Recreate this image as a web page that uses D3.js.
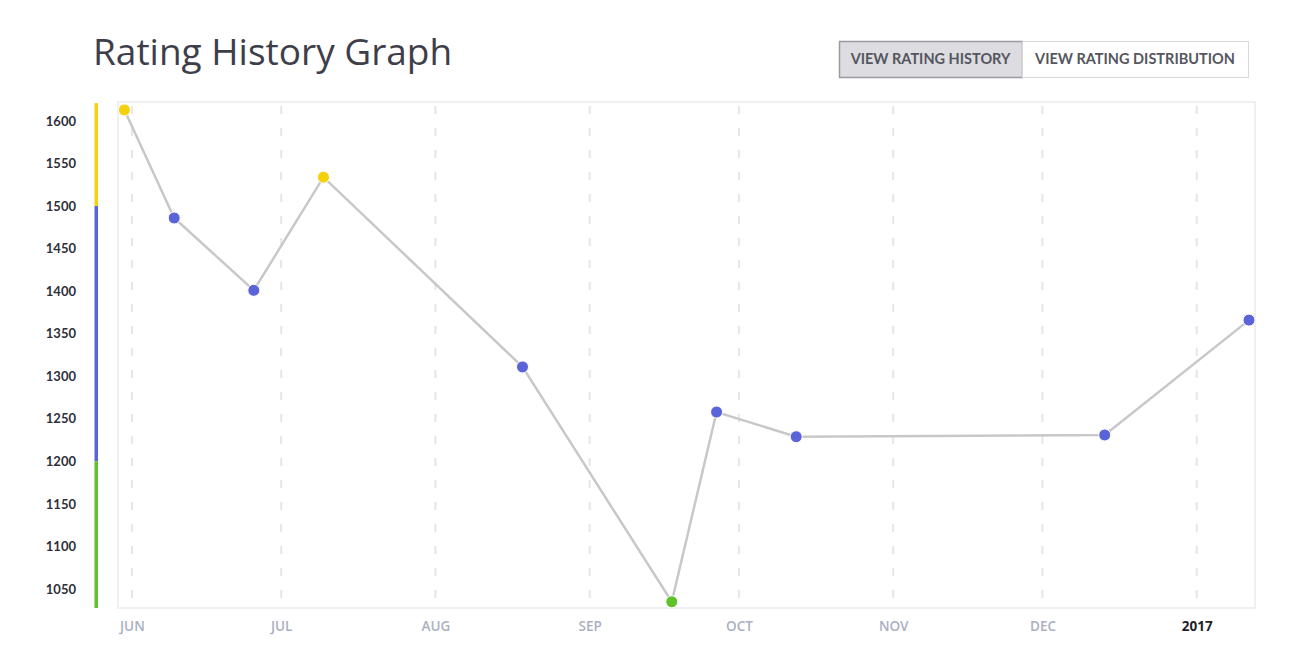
<!DOCTYPE html>
<html><head><meta charset="utf-8">
<script src="https://cdn.jsdelivr.net/npm/d3@7"></script>
<style>
html,body{margin:0;padding:0;background:#fff;}
svg{display:block;}
</style></head>
<body><svg id="c" width="1300" height="658"></svg>
<script>
const dates = ["2016-05-30 12","2016-06-09 12","2016-06-25 12","2016-07-09 12","2016-08-18 12","2016-09-17 12","2016-09-26 12","2016-10-12 12","2016-12-13 12","2017-01-11 12"];
const ratings = [1613,1486,1401,1534,1311,1035,1258,1229,1231,1366];
const yTicks = [1050,1100,1150,1200,1250,1300,1350,1400,1450,1500,1550,1600];
const monthTicks = ["2016-06-01 00","2016-07-01 00","2016-08-01 00","2016-09-01 00","2016-10-01 00","2016-11-01 00","2016-12-01 00","2017-01-01 00"];
const monthLabels = ["JUN","JUL","AUG","SEP","OCT","NOV","DEC","2017"];
const bands = [{lo:1500,hi:1621,color:"#f5d10c"},{lo:1200,hi:1500,color:"#5b63d9"},{lo:1027.7,hi:1200,color:"#5fc22b"}];
const buttons = ["VIEW RATING HISTORY","VIEW RATING DISTRIBUTION"];

const parse = d3.timeParse("%Y-%m-%d %H");
const data = dates.map((d,i)=>({date:parse(d), r:ratings[i]}));
const colorFor = r => r>=1500 ? "#f5d10c" : (r>=1200 ? "#5b63d9" : "#5fc22b");

const svg = d3.select("#c");
const L=118, R=1255, T=102, B=608;

const x = d3.scaleTime()
  .domain([new Date(2016,4,29,5), new Date(2017,0,12,17)])
  .range([L,R]);
const y = d3.scaleLinear().domain([1027.7,1622.3]).range([B,T]);

// title
svg.append("text").attr("x",93).attr("y",65)
  .attr("font-family","Open Sans").attr("font-size",37).attr("fill","#3d3e4a")
  .text("Rating History Graph");

// buttons
const bw=[183,226], bx0=839, by=41, bh=36;
let bx=bx0;
buttons.forEach((t,i)=>{
  const g=svg.append("g");
  g.append("rect").attr("x",bx+0.5).attr("y",by+0.5).attr("width",bw[i]).attr("height",bh)
    .attr("fill", i===0?"#dcdce1":"#fff").attr("stroke", i===0?"#9a9aa0":"#d8d8dc").attr("stroke-width",i===0?1.5:1);
  g.append("text").attr("x",bx+bw[i]/2).attr("y",by+bh/2+5).attr("text-anchor","middle")
    .attr("font-family","Lato").attr("font-weight","bold").attr("font-size",14.5).attr("fill","#55565e")
    .text(t);
  bx+=bw[i];
});

// frame
svg.append("rect").attr("x",L).attr("y",T).attr("width",R-L).attr("height",B-T)
  .attr("fill","none").attr("stroke","#f0f0f2").attr("stroke-width",2);

// grid
const mt = monthTicks.map(parse);
svg.append("g").selectAll("line").data(mt).join("line")
  .attr("x1",d=>x(d)).attr("x2",d=>x(d)).attr("y1",T+4).attr("y2",B)
  .attr("stroke","#e6e6e9").attr("stroke-width",2).attr("stroke-dasharray","8,14");

// color bar
svg.append("g").selectAll("rect").data(bands).join("rect")
  .attr("x",94.5).attr("width",3.5)
  .attr("y",d=>y(d.hi)).attr("height",d=>y(d.lo)-y(d.hi))
  .attr("fill",d=>d.color);

// y axis
const ya = d3.axisLeft(y).tickValues(yTicks).tickSize(0).tickPadding(0).tickFormat(d3.format("d"));
const yg = svg.append("g").attr("transform","translate(76,0)").call(ya);
yg.select(".domain").remove();
yg.selectAll("text").attr("font-family","Lato").attr("font-weight","bold").attr("font-size",13).attr("fill","#2e2f3a");

// x axis
const xa = d3.axisBottom(x).tickValues(mt).tickSize(0).tickPadding(0)
  .tickFormat((d,i)=>monthLabels[i]);
const xg = svg.append("g").attr("transform","translate(0,631)").call(xa);
xg.select(".domain").remove();
xg.selectAll("text").attr("font-family","Open Sans").attr("font-size",13.5).attr("dy",0)
  .attr("fill",(d,i)=>i===7?"#1e1f28":"#aab0c2")
  .attr("font-weight",(d,i)=>i===7?"bold":"600");

// line
svg.append("path").datum(data)
  .attr("d", d3.line().x(d=>x(d.date)).y(d=>y(d.r)))
  .attr("fill","none").attr("stroke","#c8c8c8").attr("stroke-width",2.5);

// points
svg.append("g").selectAll("circle").data(data).join("circle")
  .attr("cx",d=>x(d.date)).attr("cy",d=>y(d.r)).attr("r",6)
  .attr("fill",d=>colorFor(d.r)).attr("stroke","#fff").attr("stroke-width",1);
</script></body></html>
